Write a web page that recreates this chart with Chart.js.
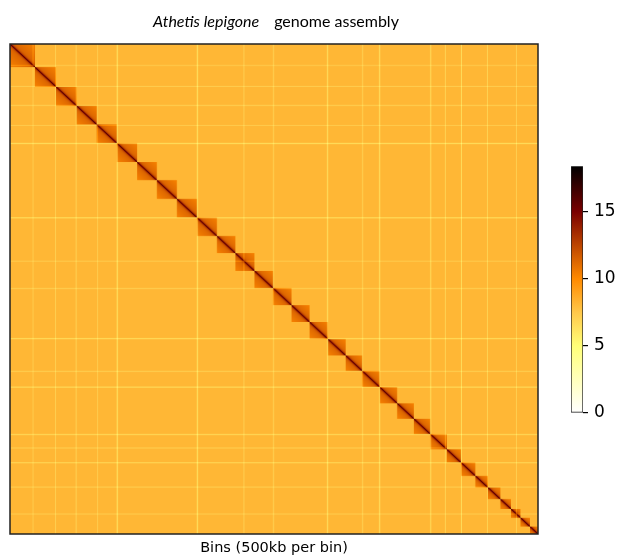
<!DOCTYPE html>
<html>
<head>
<meta charset="utf-8">
<title>Athetis lepigone genome assembly</title>
<script src="https://cdn.jsdelivr.net/npm/chart.js@4.4.1/dist/chart.umd.min.js"></script>
<style>
  body { margin: 0; background: #fff; }
  #wrap { position: relative; width: 619px; height: 557px; }
  #mapChart { position: absolute; left: 0; top: 0; }
  #barChart { position: absolute; left: 540px; top: 150px; }
</style>
</head>
<body>
<div id="wrap">
  <canvas id="mapChart" width="619" height="557"></canvas>
  <canvas id="barChart" width="79" height="280"></canvas>
</div>
<script>
// Chromosome sizes in bins (500kb per bin), assembly order
const chrSizes = [50, 42, 41, 40, 40, 41, 39, 40, 40, 40, 37, 38, 37, 37, 36, 37,
  35, 33, 35, 35, 33, 33, 33, 28, 29, 25, 25, 21, 19, 19, 16];

// Low coverage bins (pale stripes) and their coverage factor
const stripeBins = [45, 90, 131, 174, 213, 373, 466, 525, 633, 703, 737, 839, 868, 900, 952, 1010];
const stripeCover = [0.9, 0.88, 0.86, 0.9, 0.74, 0.74, 0.88, 0.86, 0.76, 0.86, 0.76, 0.8, 0.86, 0.8, 0.86, 0.88];

// Contact levels (log scale)
const interLevel = 8.2;
const intraFar = 10.3;
const intraNear = 11.5;
const diagPeak = 16.8;
const diagWidth = 2.4;

// Colour bar
const cbMax = 18.4;
const cbTicks = [0, 5, 10, 15];
const cbStops = [0, 5, 7.5, 10, 15, 18.4];
const cbColors = ['#ffffff', '#ffff78', '#ffc84a', '#ff8a00', '#7a0000', '#000000'];

// Texts
const titleItalic = 'Athetis lepigone';
const titleRest = 'genome assembly';
const xLabel = 'Bins (500kb per bin)';

const nBins = chrSizes.reduce((a, b) => a + b, 0);

// Which chromosome each bin belongs to
const chrOf = new Int16Array(nBins);
let pos = 0;
chrSizes.forEach((size, c) => {
  for (let k = 0; k < size; k++) chrOf[pos + k] = c;
  pos += size;
});

const cover = new Float32Array(nBins).fill(1);
stripeBins.forEach((b, k) => {
  cover[b] = stripeCover[k];
  if (b + 1 < nBins) cover[b + 1] = stripeCover[k];
});

const rgbStops = cbColors.map(h => [1, 3, 5].map(i => parseInt(h.substr(i, 2), 16)));

function colorFor(v) {
  if (v <= cbStops[0]) return rgbStops[0];
  for (let k = 1; k < cbStops.length; k++) {
    if (v <= cbStops[k]) {
      const t = (v - cbStops[k - 1]) / (cbStops[k] - cbStops[k - 1]);
      const a = rgbStops[k - 1], b = rgbStops[k];
      return [a[0] + (b[0] - a[0]) * t, a[1] + (b[1] - a[1]) * t, a[2] + (b[2] - a[2]) * t];
    }
  }
  return rgbStops[rgbStops.length - 1];
}

function contact(i, j) {
  let v;
  if (chrOf[i] !== chrOf[j]) {
    v = interLevel;
  } else {
    const d = Math.abs(i - j);
    const size = chrSizes[chrOf[i]];
    v = intraFar + (intraNear - intraFar) * (1 - d / size) + (diagPeak - intraNear) * Math.exp(-d / diagWidth);
  }
  return v * cover[i] * cover[j];
}

// Build the contact matrix image, one pixel per bin
const mapImage = document.createElement('canvas');
mapImage.width = nBins;
mapImage.height = nBins;
(function buildImage() {
  const ictx = mapImage.getContext('2d');
  const img = ictx.createImageData(nBins, nBins);
  for (let i = 0; i < nBins; i++) {
    for (let j = 0; j < nBins; j++) {
      const c = colorFor(contact(i, j));
      const p = (i * nBins + j) * 4;
      img.data[p] = c[0];
      img.data[p + 1] = c[1];
      img.data[p + 2] = c[2];
      img.data[p + 3] = 255;
    }
  }
  ictx.putImageData(img, 0, 0);
})();

// Draw matrix, frame and texts
const heatmapPlugin = {
  id: 'heatmap',
  beforeDatasetsDraw(chart) {
    const { ctx, scales: { x, y } } = chart;
    const x0 = x.getPixelForValue(0), x1 = x.getPixelForValue(nBins);
    const y0 = y.getPixelForValue(0), y1 = y.getPixelForValue(nBins);
    ctx.save();
    ctx.imageSmoothingEnabled = true;
    ctx.imageSmoothingQuality = 'high';
    ctx.drawImage(mapImage, x0, y0, x1 - x0, y1 - y0);
    ctx.strokeStyle = '#222';
    ctx.lineWidth = 1.5;
    ctx.strokeRect(x0, y0, x1 - x0, y1 - y0);
    ctx.restore();
  },
  afterDraw(chart) {
    const { ctx, chartArea } = chart;
    const cx = (chartArea.left + chartArea.right) / 2;
    ctx.save();
    ctx.fillStyle = '#000';
    ctx.textBaseline = 'middle';
    // title: italic species name + plain text
    const fItalic = 'italic 16px Lato';
    const fPlain = '16px Lato';
    ctx.font = fItalic;
    const w1 = ctx.measureText(titleItalic).width;
    ctx.font = fPlain;
    const w2 = ctx.measureText(titleRest).width;
    const gap = 15;
    const tx = cx + 2 - (w1 + gap + w2) / 2;
    ctx.textAlign = 'left';
    ctx.font = fItalic;
    ctx.fillText(titleItalic, tx, 22);
    ctx.font = fPlain;
    ctx.fillText(titleRest, tx + w1 + gap, 22);
    // x axis label
    ctx.textAlign = 'center';
    ctx.font = '14.5px "DejaVu Sans"';
    ctx.fillText(xLabel, cx, 548);
    ctx.restore();
  }
};

new Chart(document.getElementById('mapChart'), {
  type: 'scatter',
  data: { datasets: [{ data: [] }] },
  options: {
    responsive: false,
    animation: false,
    devicePixelRatio: 1,
    layout: { padding: { left: 10, top: 44, right: 81, bottom: 23 } },
    plugins: { legend: { display: false }, tooltip: { enabled: false } },
    scales: {
      x: { type: 'linear', min: 0, max: nBins, display: false },
      y: { type: 'linear', min: 0, max: nBins, reverse: true, display: false }
    }
  },
  plugins: [heatmapPlugin]
});

// Colour bar
function gradientFill(context) {
  const chart = context.chart;
  if (!chart.chartArea) return null;
  const y = chart.scales.y;
  const g = chart.ctx.createLinearGradient(0, y.getPixelForValue(0), 0, y.getPixelForValue(cbMax));
  cbStops.forEach((v, k) => g.addColorStop(v / cbMax, cbColors[k]));
  return g;
}

new Chart(document.getElementById('barChart'), {
  type: 'bar',
  data: {
    labels: [''],
    datasets: [{
      data: [[0, cbMax]],
      backgroundColor: gradientFill,
      borderColor: '#222',
      borderWidth: 1,
      borderSkipped: false,
      barPercentage: 1,
      categoryPercentage: 1
    }]
  },
  options: {
    responsive: false,
    animation: false,
    devicePixelRatio: 1,
    layout: { padding: { left: 31, top: 16, bottom: 17, right: 0 } },
    plugins: { legend: { display: false }, tooltip: { enabled: false } },
    scales: {
      x: { display: false },
      y: {
        position: 'right',
        min: 0,
        max: cbMax,
        afterBuildTicks: s => { s.ticks = cbTicks.map(v => ({ value: v })); },
        afterFit: s => { s.width = 36; },
        grid: { drawOnChartArea: false, drawTicks: true, tickLength: 5, lineWidth: 1.2, color: '#000' },
        border: { display: false },
        ticks: { color: '#000', padding: 6, font: { family: 'DejaVu Sans', size: 17 } }
      }
    }
  }
});
</script>
</body>
</html>
